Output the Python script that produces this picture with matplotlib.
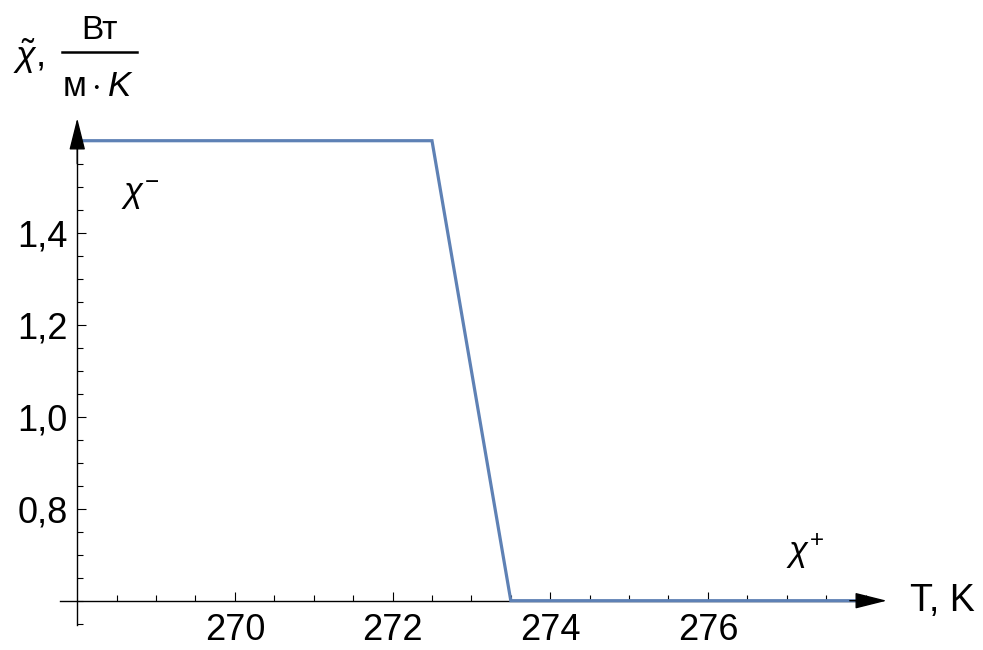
import matplotlib

matplotlib.use("Agg")

import matplotlib.pyplot as plt
import numpy as np
from matplotlib.lines import Line2D

plt.rcParams["font.family"] = ["Liberation Sans", "DejaVu Sans"]
plt.rcParams["mathtext.fontset"] = "custom"
plt.rcParams["mathtext.rm"] = "Liberation Sans"
plt.rcParams["mathtext.it"] = "Liberation Sans:italic"

# thermal conductivity step across the melting interval
temperature = [268.0, 272.5, 273.5, 278.0]
chi = [1.6, 1.6, 0.6, 0.6]

x_major = [270, 272, 274, 276]
y_major = [0.8, 1.0, 1.2, 1.4]
y_labels = ["0,8", "1,0", "1,2", "1,4"]

x0, y0 = 268.0, 0.6  # axes origin
line_color = "#5E81B5"
W, H = 983, 650

fig = plt.figure(figsize=(W / 100, H / 100), dpi=100)
ax = fig.add_axes([0, 0, 1, 1])
ax.set_xlim(267.02, 279.49)
ax.set_ylim(0.4928, 1.9059)

ax.plot(temperature, chi, color=line_color, lw=2.3, solid_joinstyle="miter", zorder=3)

for side in ("top", "right"):
    ax.spines[side].set_visible(False)
ax.spines["left"].set_position(("data", x0))
ax.spines["bottom"].set_position(("data", y0))
ax.spines["left"].set_bounds(0.548, 1.6)
ax.spines["bottom"].set_bounds(267.78, 278.0)
for side in ("left", "bottom"):
    ax.spines[side].set_linewidth(1.0)

arrow = dict(arrowstyle="-|>,head_length=20,head_width=5", color="black",
             lw=1.0, mutation_scale=1, shrinkA=0, shrinkB=0)
ax.annotate("", xy=(278.27, y0), xytext=(277.8, y0), arrowprops=arrow)
ax.annotate("", xy=(x0, 1.649), xytext=(x0, 1.55), arrowprops=arrow)

ax.set_xticks(x_major)
ax.set_xticklabels([str(v) for v in x_major])
ax.set_xticks([v for v in np.arange(268.5, 278.01, 0.5) if v not in x_major], minor=True)
ax.set_yticks(y_major)
ax.set_yticklabels(y_labels)
ax.set_yticks([v for v in np.arange(0.55, 1.56, 0.05)
               if not any(abs(v - m) < 1e-6 for m in y_major)], minor=True)

ax.tick_params(which="both", direction="in", width=0.8, colors="black", labelsize=26)
ax.tick_params(which="major", length=6.5)
ax.tick_params(which="minor", length=4.2)
ax.tick_params(axis="x", which="major", pad=9)
ax.tick_params(axis="y", which="major", pad=7)

ax.text(268.8, 1.482, r"$\chi^{-}$", fontsize=25, ha="center", va="center")
ax.text(277.23, 0.706, r"$\chi^{+}$", fontsize=25, ha="center", va="center")
ax.text(278.56, y0, "T, K", fontsize=27, ha="left", va="center")


def px(x, y):
    return x / W, 1 - y / H


# y-axis label: chi-tilde with units written as a fraction
fig.text(*px(13, 67), r"$\tilde{\chi},$", fontsize=26, ha="left", va="baseline")
fig.text(*px(99, 39), "Вт", fontsize=24, ha="center", va="baseline")
fig.add_artist(Line2D([62 / W, 137 / W], [1 - 52 / H, 1 - 52 / H],
                      color="black", lw=1.8, transform=fig.transFigure))
fig.text(*px(98, 96), r"$\mathrm{м}\cdot K$", fontsize=25, ha="center", va="baseline")

fig.savefig("out.png", dpi=100)
